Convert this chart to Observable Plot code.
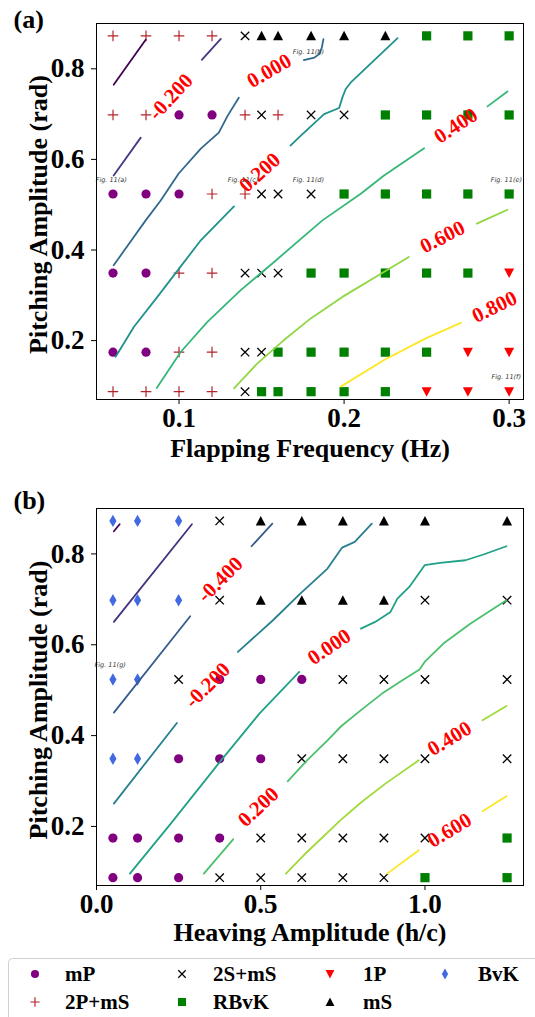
<!DOCTYPE html>
<html>
<head>
<meta charset="utf-8">
<script src="https://cdn.jsdelivr.net/npm/d3@7"></script>
<script src="https://cdn.jsdelivr.net/npm/@observablehq/plot@0.6"></script>
<style>
  body { margin: 0; background: #fff; }
  #wrap { position: relative; width: 535px; height: 1017px; overflow: hidden; background: #fff; }
  #wrap svg { display: block; position: absolute; left: 0; }
</style>
</head>
<body>
<div id="wrap"></div>
<script>
// ---------------- DATA ----------------
const pitchRows = [0.8727, 0.6981, 0.5236, 0.3491, 0.1745, 0.0873];

// Panel (a): flapping frequency (Hz)
const freqA = [0.06, 0.08, 0.1, 0.12, 0.14, 0.15, 0.16, 0.18, 0.2, 0.225, 0.25, 0.275, 0.3];
const modesA = [
  ["2P+mS","2P+mS","2P+mS","2P+mS","2S+mS","mS","mS","mS","mS","mS","RBvK","RBvK","RBvK"],
  ["2P+mS","2P+mS","mP","mP","2P+mS","2S+mS","2P+mS","2S+mS","2S+mS","RBvK","RBvK","RBvK","RBvK"],
  ["mP","mP","mP","2P+mS","2P+mS","2S+mS","2S+mS","2S+mS","RBvK","RBvK","RBvK","RBvK","RBvK"],
  ["mP","mP","2P+mS","2P+mS","2S+mS","2S+mS","2S+mS","RBvK","RBvK","RBvK","RBvK","RBvK","1P"],
  ["mP","mP","2P+mS","2P+mS","2S+mS","2S+mS","RBvK","RBvK","RBvK","RBvK","RBvK","1P","1P"],
  ["2P+mS","2P+mS","2P+mS","2P+mS","2S+mS","RBvK","RBvK","RBvK","RBvK","RBvK","1P","1P","1P"]
];

// Panel (b): heaving amplitude (h/c)
const heaveB = [0.05, 0.125, 0.25, 0.375, 0.5, 0.625, 0.75, 0.875, 1.0, 1.25];
const modesB = [
  ["BvK","BvK","BvK","2S+mS","mS","mS","mS","mS","mS","mS"],
  ["BvK","BvK","BvK","2S+mS","mS","mS","mS","mS","2S+mS","2S+mS"],
  ["BvK","BvK","2S+mS","mP","mP","mP","2S+mS","2S+mS","2S+mS","2S+mS"],
  ["BvK","BvK","mP","mP","mP","2S+mS","2S+mS","2S+mS","2S+mS","2S+mS"],
  ["mP","mP","mP","mP","2S+mS","2S+mS","2S+mS","2S+mS","2S+mS","RBvK"],
  ["mP","mP","mP","2S+mS","2S+mS","2S+mS","2S+mS","2S+mS","RBvK","RBvK"]
];

// Contour segments, panel (a): [level, [[freq, pitch], ...]]
const contoursA = [
  [-0.4, [[0.0604,0.765],[0.0798,0.864]]],
  [-0.2, [[0.0604,0.5645],[0.0768,0.6481]]],
  [-0.2, [[0.1138,0.8199],[0.1253,0.8661]]],
  [0.0, [[0.0604,0.3663],[0.0725,0.4280],[0.0798,0.4654],[0.0889,0.5094],[0.0998,0.5689],[0.1132,0.6239],[0.1241,0.6591],[0.1295,0.6966],[0.1362,0.7362]]],
  [0.0, [[0.1756,0.8192],[0.1820,0.8249],[0.1850,0.8324],[0.1865,0.8469],[0.1875,0.8654]]],
  [0.2, [[0.0616,0.1644],[0.0727,0.2305],[0.0869,0.2965],[0.1000,0.3590],[0.1132,0.4214],[0.1333,0.4962]]],
  [0.2, [[0.1675,0.6305],[0.1738,0.6525],[0.1879,0.6999],[0.1970,0.7135],[0.1990,0.7369],[0.2010,0.7554],[0.2041,0.7699],[0.2324,0.8676]]],
  [0.4, [[0.0865,0.0955],[0.1010,0.1748],[0.1172,0.2415],[0.1374,0.3113],[0.1576,0.3736],[0.1798,0.4434],[0.1869,0.4654],[0.2101,0.5242],[0.2242,0.5645],[0.2485,0.6246]]],
  [0.4, [[0.2869,0.7170],[0.2990,0.7501]]],
  [0.6, [[0.1333,0.0948],[0.1475,0.1499],[0.1636,0.2012],[0.1798,0.2490],[0.1990,0.2965],[0.2241,0.3516],[0.2392,0.3846]]],
  [0.6, [[0.2804,0.4581],[0.2990,0.4889]]],
  [0.8, [[0.1980,0.0984],[0.2242,0.1572],[0.2495,0.2049],[0.2707,0.2393]]]
];
const levelRangeA = [-0.4, 0.8];
// Contour labels, panel (a): [text, freq, pitch, angle]
const labelsA = [
  ["-0.200", 0.0950, 0.7384, -47],
  ["0.000", 0.1546, 0.7956, -30],
  ["0.200", 0.1489, 0.5711, -42],
  ["0.400", 0.2677, 0.6745, -33],
  ["0.600", 0.2596, 0.4286, -27],
  ["0.800", 0.2911, 0.2745, -26]
];
const notesA = [
  ["Fig. 11(a)", 0.0495, 0.5546],
  ["Fig. 11(b)", 0.1689, 0.8375],
  ["Fig. 11(c)", 0.1295, 0.5546],
  ["Fig. 11(d)", 0.1689, 0.5546],
  ["Fig. 11(e)", 0.2889, 0.5546],
  ["Fig. 11(f)", 0.2893, 0.1204]
];

// Contour segments, panel (b): [level, [[heave, pitch], ...]]
const contoursB = [
  [-0.8, [[0.0529,0.8499],[0.0705,0.8654]]],
  [-0.6, [[0.0529,0.6503],[0.2905,0.8654]]],
  [-0.4, [[0.0529,0.4507],[0.2853,0.6628]]],
  [-0.4, [[0.4720,0.8169],[0.5353,0.8668]]],
  [-0.2, [[0.0529,0.2503],[0.2448,0.4279]]],
  [-0.2, [[0.4305,0.5842],[0.5373,0.6540],[0.6203,0.7127],[0.7033,0.7677],[0.7479,0.8140],[0.7863,0.8265],[0.8382,0.8668]]],
  [0.0, [[0.1017,0.0961],[0.2261,0.2062],[0.3714,0.3383],[0.4959,0.4484],[0.6172,0.5402]]],
  [0.0, [[0.8050,0.6356],[0.8485,0.6503],[0.8952,0.6723],[0.9160,0.7017],[0.9523,0.7274],[0.9990,0.7751],[1.0456,0.7802],[1.1234,0.7861],[1.1805,0.7993],[1.2479,0.8169]]],
  [0.2, [[0.3268,0.0961],[0.4160,0.1717]]],
  [0.2, [[0.5820,0.2994],[0.6411,0.3457],[0.7033,0.3897],[0.7448,0.4206],[0.8071,0.4573],[0.8693,0.4925],[0.9315,0.5218],[0.9834,0.5453],[0.9990,0.5622],[1.0560,0.6026],[1.1390,0.6466],[1.2479,0.6980]]],
  [0.4, [[0.5768,0.0961],[0.6411,0.1438],[0.7448,0.2150],[0.8071,0.2539],[0.8797,0.2943],[0.9813,0.3457]]],
  [0.4, [[1.1753,0.4338],[1.2479,0.4653]]],
  [0.6, [[0.8849,0.0961],[0.9813,0.1475]]],
  [0.6, [[1.1753,0.2334],[1.2479,0.2664]]]
];
const levelRangeB = [-0.8, 0.6];
const labelsB = [
  ["-0.400", 0.3766, 0.7435, -45],
  ["-0.200", 0.3382, 0.5108, -45],
  ["0.000", 0.7085, 0.5952, -34],
  ["0.200", 0.4927, 0.2429, -43],
  ["0.400", 1.0747, 0.3934, -31],
  ["0.600", 1.0747, 0.1915, -31]
];
const notesB = [["Fig. 11(g)", -0.006, 0.5563]];

const ticksA = [0.1, 0.2, 0.3];
const ticksB = [0.0, 0.5, 1.0];
const ticksY = [0.2, 0.4, 0.6, 0.8];
const legendOrder = ["mP", "2P+mS", "2S+mS", "RBvK", "1P", "mS", "BvK"];

// ---------------- SYMBOLS ----------------
const rad = size => Math.sqrt(size / Math.PI);
const symCircle = {draw(c, s) { const r = rad(s); c.moveTo(r, 0); c.arc(0, 0, r, 0, 2 * Math.PI); }};
const symPlus = {draw(c, s) { const r = rad(s); c.moveTo(-r, 0); c.lineTo(r, 0); c.moveTo(0, -r); c.lineTo(0, r); }};
const symTimes = {draw(c, s) { const r = rad(s); c.moveTo(-r, -r); c.lineTo(r, r); c.moveTo(-r, r); c.lineTo(r, -r); }};
const symSquare = {draw(c, s) { const r = rad(s); c.rect(-r, -r, 2 * r, 2 * r); }};
const symTriUp = {draw(c, s) { const r = rad(s); c.moveTo(0, -r); c.lineTo(r, r * 0.9); c.lineTo(-r, r * 0.9); c.closePath(); }};
const symTriDown = {draw(c, s) { const r = rad(s); c.moveTo(0, r); c.lineTo(r, -r * 0.9); c.lineTo(-r, -r * 0.9); c.closePath(); }};
const symDiamond = {draw(c, s) { const r = rad(s); c.moveTo(0, -r); c.lineTo(r * 0.58, 0); c.lineTo(0, r); c.lineTo(-r * 0.58, 0); c.closePath(); }};

const modeStyle = {
  "mP":    {symbol: symCircle,   fill: "#800080", stroke: "none",    r: 4.6, sw: 0},
  "2P+mS": {symbol: symPlus,     fill: "none",    stroke: "#b5252a", r: 5.3, sw: 1.2},
  "2S+mS": {symbol: symTimes,    fill: "none",    stroke: "#000",    r: 4.2, sw: 1.3},
  "RBvK":  {symbol: symSquare,   fill: "#008000", stroke: "none",    r: 4.6, sw: 0},
  "1P":    {symbol: symTriDown,  fill: "#ff0000", stroke: "none",    r: 5.0, sw: 0},
  "mS":    {symbol: symTriUp,    fill: "#000",    stroke: "none",    r: 5.0, sw: 0},
  "BvK":   {symbol: symDiamond,  fill: "#4169e1", stroke: "none",    r: 6.2, sw: 0}
};

const SERIF = "'Liberation Serif', 'Times New Roman', serif";
const fmt1 = d3.format(".1f");

function gridPoints(xs, modes) {
  const out = [];
  modes.forEach((row, i) => row.forEach((m, j) => out.push({x: xs[j], y: pitchRows[i], mode: m})));
  return out;
}
function contourRows(contours) {
  const out = [];
  contours.forEach(([level, pts], k) => pts.forEach(([x, y]) => out.push({x, y, level, seg: k})));
  return out;
}

function panel({top, height, mt, mb, xDomain, xTicks, levelRange, pts, contours, labels, notes, tag, xLabel, tagDy, xLabelDy}) {
  const dots = Object.keys(modeStyle).map(m => {
    const st = modeStyle[m];
    return Plot.dot(pts.filter(d => d.mode === m), {
      x: "x", y: "y", symbol: st.symbol, r: st.r, fill: st.fill, stroke: st.stroke, strokeWidth: st.sw
    });
  });
  const svg = Plot.plot({
    width: 535, height, marginTop: mt, marginBottom: mb, marginLeft: 96, marginRight: 12,
    style: {fontFamily: SERIF, fontSize: "24px", fontWeight: "bold", background: "transparent", overflow: "visible", color: "#000"},
    x: {domain: xDomain},
    y: {domain: [0.07, 0.9]},
    color: {type: "linear", scheme: "viridis", domain: levelRange},
    marks: [
      ...dots,
      Plot.line(contourRows(contours), {x: "x", y: "y", z: "seg", stroke: "level", strokeWidth: 1.8, curve: "linear"}),
      Plot.text(labels, {x: d => d[1], y: d => d[2], text: d => d[0], rotate: d => d[3],
        fill: "#ff0000", fontSize: 21, fontWeight: "bold", fontFamily: SERIF}),
      Plot.text(notes, {x: d => d[1], y: d => d[2], text: d => d[0], textAnchor: "start",
        fontSize: 6.5, fontStyle: "italic", fontWeight: "normal", fontFamily: "DejaVu Sans", fill: "#333"}),
      // tick marks from the library axes; labels drawn as text at the same scale positions
      Plot.axisX({ticks: xTicks, tickSize: 5, tickFormat: () => "", label: null}),
      Plot.axisY({ticks: ticksY, tickSize: 5, tickFormat: () => "", label: null}),
      Plot.text(xTicks, {x: d => d, frameAnchor: "bottom", dy: 19, text: d => fmt1(d),
        textAnchor: "middle", lineAnchor: "middle", fontSize: 27, fontWeight: "bold", fontFamily: SERIF}),
      Plot.text(ticksY, {y: d => d, frameAnchor: "left", dx: -12, text: d => fmt1(d),
        textAnchor: "end", lineAnchor: "middle", fontSize: 27, fontWeight: "bold", fontFamily: SERIF}),
      Plot.frame({stroke: "#000", strokeWidth: 1}),
      Plot.text([tag], {frameAnchor: "top-left", text: d => d, dx: -83, dy: tagDy, textAnchor: "start",
        lineAnchor: "middle", fontSize: 26, fontWeight: "bold"}),
      Plot.text(["Pitching Amplitude (rad)"], {frameAnchor: "left", text: d => d, dx: -58, dy: 3, rotate: -90,
        textAnchor: "middle", lineAnchor: "middle", fontSize: 26, fontWeight: "bold"}),
      Plot.text([xLabel], {frameAnchor: "bottom", text: d => d, dy: xLabelDy, textAnchor: "middle",
        lineAnchor: "middle", fontSize: 26, fontWeight: "bold"})
    ]
  });
  svg.style.top = top + "px";
  return svg;
}

const wrap = document.getElementById("wrap");
wrap.appendChild(panel({
  top: 0, height: 480, mt: 23, mb: 81, xDomain: [0.05, 0.3087], xTicks: ticksA, levelRange: levelRangeA,
  pts: gridPoints(freqA, modesA), contours: contoursA, labels: labelsA, notes: notesA,
  tag: "(a)", xLabel: "Flapping Frequency (Hz)", tagDy: -4, xLabelDy: 49
}));
wrap.appendChild(panel({
  top: 480, height: 470, mt: 28, mb: 65, xDomain: [0, 1.3], xTicks: ticksB, levelRange: levelRangeB,
  pts: gridPoints(heaveB, modesB), contours: contoursB, labels: labelsB, notes: notesB,
  tag: "(b)", xLabel: "Heaving Amplitude (h/c)", tagDy: -8, xLabelDy: 47
}));

// ---------------- LEGEND ----------------
const lg = d3.select(wrap).append("svg")
  .attr("width", 535).attr("height", 67).style("top", "950px")
  .style("font-family", SERIF);
lg.append("rect").attr("x", 8.5).attr("y", 8.5).attr("width", 560).attr("height", 80)
  .attr("rx", 4).attr("fill", "#fff").attr("stroke", "#d0d0d0").attr("stroke-width", 1);
const colMarkX = [35, 182, 330, 445];
const colTextX = [65, 213, 363, 478];
const rowY = [24, 52];
legendOrder.forEach((m, i) => {
  const c = Math.floor(i / 2), r = i % 2;
  const st = modeStyle[m];
  const rr = st.r * 0.88;
  lg.append("path")
    .attr("transform", `translate(${colMarkX[c]},${rowY[r]})`)
    .attr("d", d3.symbol(st.symbol, rr * rr * Math.PI)())
    .attr("fill", st.fill).attr("stroke", st.stroke).attr("stroke-width", st.sw);
  lg.append("text").attr("x", colTextX[c]).attr("y", rowY[r]).attr("dy", "0.35em")
    .attr("font-size", 21).attr("font-weight", "bold").text(m);
});
</script>
</body>
</html>
